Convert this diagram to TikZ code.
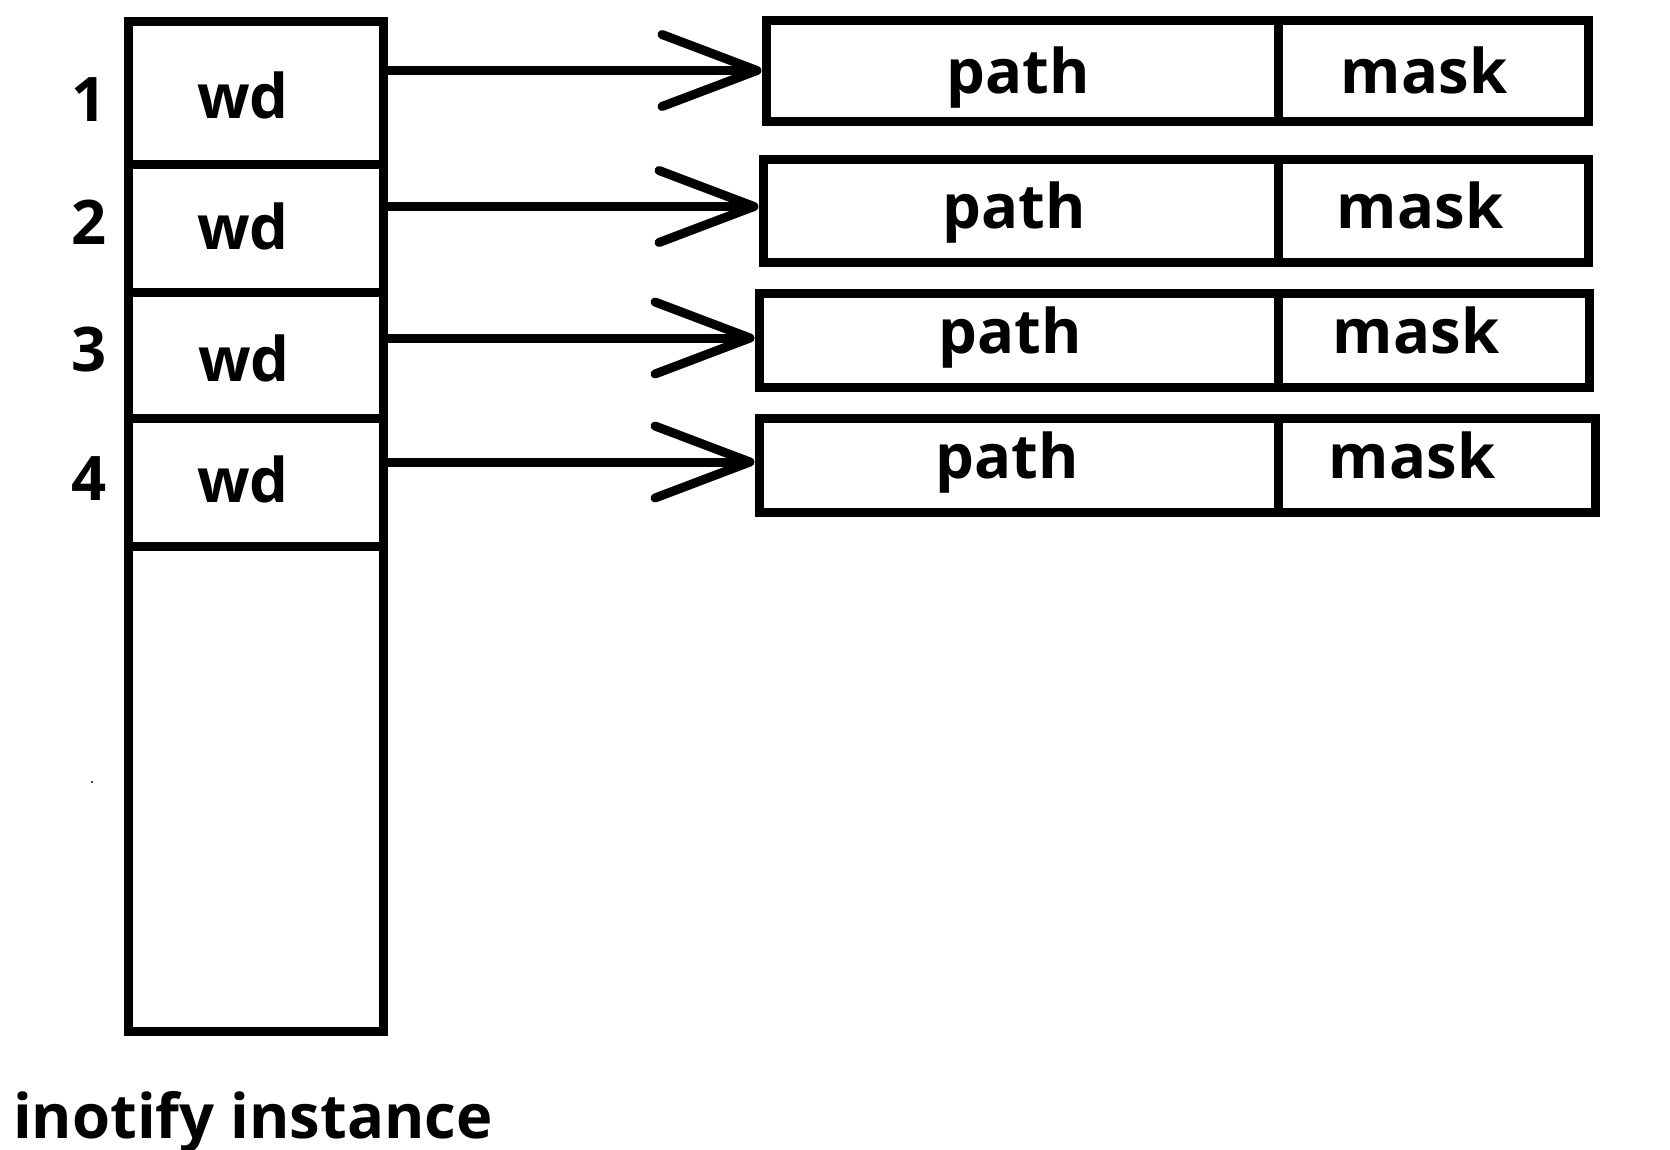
\documentclass[tikz,border=0pt]{standalone}
\usepackage{fontspec}
\setmainfont{Open Sans}
\usetikzlibrary{arrows.meta,calc}
\begin{document}
\begin{tikzpicture}[x=1pt,y=-1pt,
  cell/.style={draw, line width=9pt, inner sep=0pt, minimum width=#1},
  lbl/.style={font=\fontsize{61.5}{70}\selectfont\bfseries, inner sep=0pt, anchor=base},
  arr/.style={line width=9pt, line cap=round, -{Straight Barb[length=95pt, width=72pt, round]}, shorten >=0pt}]
\useasboundingbox (0,0) rectangle (1670,1149);
% left column (inotify instance)
\node[cell=255pt, minimum height=142.6pt] (c1) at (256.2, 92.7) {};
\node[cell=255pt, minimum height=128pt]   (c2) at (256.2, 228) {};
\node[cell=255pt, minimum height=126pt]   (c3) at (256.2, 355) {};
\node[cell=255pt, minimum height=128pt]   (c4) at (256.2, 482) {};
\node[cell=255pt, minimum height=485pt]   (c5) at (256.2, 788.5) {};
% row labels
\node[lbl] (n1) at (89, 121) {1};
\node[lbl] (n2) at (89, 244) {2};
\node[lbl] (n3) at (89, 371) {3};
\node[lbl] (n4) at (89, 500) {4};
% wd texts
\node[lbl] (w1) at (243, 118) {wd};
\node[lbl] (w2) at (243, 249) {wd};
\node[lbl] (w3) at (244, 381) {wd};
\node[lbl] (w4) at (243, 502) {wd};
% watch records
\node[cell=512pt, minimum height=101pt] (p1) at (1022, 70.5) {};
\node[cell=310pt, minimum height=101pt] (m1) at (1433, 70.5) {};
\node[cell=515pt, minimum height=103pt] (p2) at (1020.5, 210.5) {};
\node[cell=310pt, minimum height=103pt] (m2) at (1433, 210.5) {};
\node[cell=519pt, minimum height=94pt]  (p3) at (1018.5, 340) {};
\node[cell=311pt, minimum height=94pt]  (m3) at (1433.5, 340) {};
\node[cell=519pt, minimum height=94pt]  (p4) at (1018.5, 465) {};
\node[cell=317pt, minimum height=94pt]  (m4) at (1436.5, 465) {};
\node[lbl] (pt1) at (1018, 93) {path};
\node[lbl] (mt1) at (1424, 93.5) {mask};
\node[lbl] (pt2) at (1014, 228) {path};
\node[lbl] (mt2) at (1420, 228) {mask};
\node[lbl] (pt3) at (1010, 353.5) {path};
\node[lbl] (mt3) at (1416, 353.5) {mask};
\node[lbl] (pt4) at (1007, 478.5) {path};
\node[lbl] (mt4) at (1412, 478.5) {mask};
% arrows
\draw[arr] (c1.east |- p1.west) -- (p1.west);
\draw[arr] ($(c2.east |- p2.west)+(0,-4)$) -- ($(p2.west)+(0,-4)$);
\draw[arr] ($(c3.east |- p3.west)+(0,-2)$) -- ($(p3.west)+(0,-2)$);
\draw[arr] ($(c4.east |- p4.west)+(0,-3)$) -- ($(p4.west)+(0,-3)$);
% caption
\node[lbl, anchor=base west] (cap) at (13, 1138) {inotify instance};
\fill (92,782) circle (1.2pt);
\end{tikzpicture}
\end{document}
